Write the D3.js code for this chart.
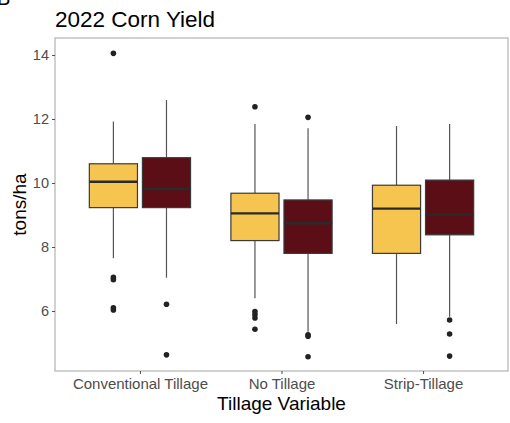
<!DOCTYPE html>
<html lang="en">
<meta charset="utf-8">
<head>
    <script src='https://d3js.org/d3.v7.min.js'></script>
    <style>
        body { margin: 0; background: #fff; }
        text { font-family: "Liberation Sans", Arial, sans-serif; }
    </style>
</head>
<body>
<script>
// categories and groups
const categories = ["Conventional Tillage", "No Tillage", "Strip-Tillage"];
const groups = ["A", "B"];
const yTicks = [6, 8, 10, 12, 14];

// [lower whisker, Q1, median, Q3, upper whisker] per category
const statsA = [
    [7.65, 9.23, 10.04, 10.60, 11.92],
    [6.40, 8.20, 9.05, 9.68, 11.84],
    [5.59, 7.80, 9.20, 9.93, 11.78]
];
const statsB = [
    [7.04, 9.23, 9.81, 10.79, 12.59],
    [5.35, 7.80, 8.74, 9.47, 11.71],
    [5.82, 8.38, 9.02, 10.09, 11.84]
];
const outliersA = [
    [14.05, 7.05, 6.98, 6.10, 6.03],
    [12.38, 5.98, 5.88, 5.78, 5.43],
    []
];
const outliersB = [
    [6.21, 4.63],
    [12.05, 5.26, 5.21, 4.57],
    [5.72, 5.28, 4.59]
];

const colors = {A: "#f6c54f", B: "#5b0e15"};

const width = 510, height = 423;
const margin = {top: 38, right: 2, bottom: 52, left: 55};
const w = width - margin.left - margin.right;
const h = height - margin.top - margin.bottom;

const svg = d3.select("body").append("svg")
    .attr("width", width)
    .attr("height", height);

// corner tag, mostly cut off at the top edge
svg.append("text")
    .attr("x", -3).attr("y", 5)
    .attr("font-size", 20)
    .attr("fill", "#000")
    .text("B");

svg.append("text")
    .attr("x", 55).attr("y", 27)
    .attr("font-size", 22.5)
    .attr("fill", "#000")
    .text("2022 Corn Yield");

const g = svg.append("g")
    .attr("transform", "translate(" + margin.left + "," + margin.top + ")");

// ggplot-like discrete scale: 0.6 units of expansion on each side
var xc = d3.scalePoint().domain(categories).range([w * 0.6 / 3.2, w * 2.6 / 3.2]);
var unit = w / 3.2;

var y = d3.scaleLinear()
    .domain([4.125, 14.53])
    .range([h, 0]);

var sub = d3.scaleBand()
    .domain(groups)
    .range([-0.375 * unit, 0.375 * unit]);
const boxW = 0.34 * unit;

g.append("rect")
    .attr("width", w).attr("height", h)
    .attr("fill", "#fff")
    .attr("stroke", "#b3b3b3")
    .attr("stroke-width", 1.2);

// axes
var yAxis = g.append("g")
    .call(d3.axisLeft(y).tickValues(yTicks).tickSize(3).tickPadding(3));
var xAxis = g.append("g")
    .attr("transform", "translate(0," + h + ")")
    .call(d3.axisBottom(xc).tickSize(3).tickPadding(4));
[xAxis, yAxis].forEach(function(a) {
    a.select(".domain").remove();
    a.selectAll("line").attr("stroke", "#4d4d4d");
    a.selectAll("text").attr("fill", "#4d4d4d")
        .attr("font-family", "Liberation Sans, Arial, sans-serif");
});
xAxis.selectAll("text").attr("font-size", 15);
yAxis.selectAll("text").attr("font-size", 14.5);

svg.append("text")
    .attr("x", margin.left + w / 2).attr("y", 410)
    .attr("text-anchor", "middle")
    .attr("font-size", 19)
    .text("Tillage Variable");

svg.append("text")
    .attr("transform", "translate(26," + (margin.top + h / 2) + ") rotate(-90)")
    .attr("text-anchor", "middle")
    .attr("font-size", 19)
    .text("tons/ha");

var series = [
    {key: "A", stats: statsA, outliers: outliersA},
    {key: "B", stats: statsB, outliers: outliersB}
];

series.forEach(function(s) {
    categories.forEach(function(c, i) {
        var st = s.stats[i];
        var cx = xc(c) + sub(s.key) + sub.bandwidth() / 2;
        var bg = g.append("g");
        bg.append("line")
            .attr("x1", cx).attr("x2", cx)
            .attr("y1", y(st[4])).attr("y2", y(st[3]))
            .attr("stroke", "#555").attr("stroke-width", 1.2);
        bg.append("line")
            .attr("x1", cx).attr("x2", cx)
            .attr("y1", y(st[1])).attr("y2", y(st[0]))
            .attr("stroke", "#555").attr("stroke-width", 1.2);
        bg.append("rect")
            .attr("x", cx - boxW / 2).attr("width", boxW)
            .attr("y", y(st[3])).attr("height", y(st[1]) - y(st[3]))
            .attr("fill", colors[s.key])
            .attr("stroke", "#3a3a3a").attr("stroke-width", 1.2);
        bg.append("line")
            .attr("x1", cx - boxW / 2).attr("x2", cx + boxW / 2)
            .attr("y1", y(st[2])).attr("y2", y(st[2]))
            .attr("stroke", "#2a2a2a").attr("stroke-width", 2.4);
        bg.selectAll("circle")
            .data(s.outliers[i])
            .join("circle")
            .attr("cx", cx)
            .attr("cy", function(d) { return y(d); })
            .attr("r", 2.8)
            .attr("fill", "#222");
    });
});
</script>
</body>
</html>
